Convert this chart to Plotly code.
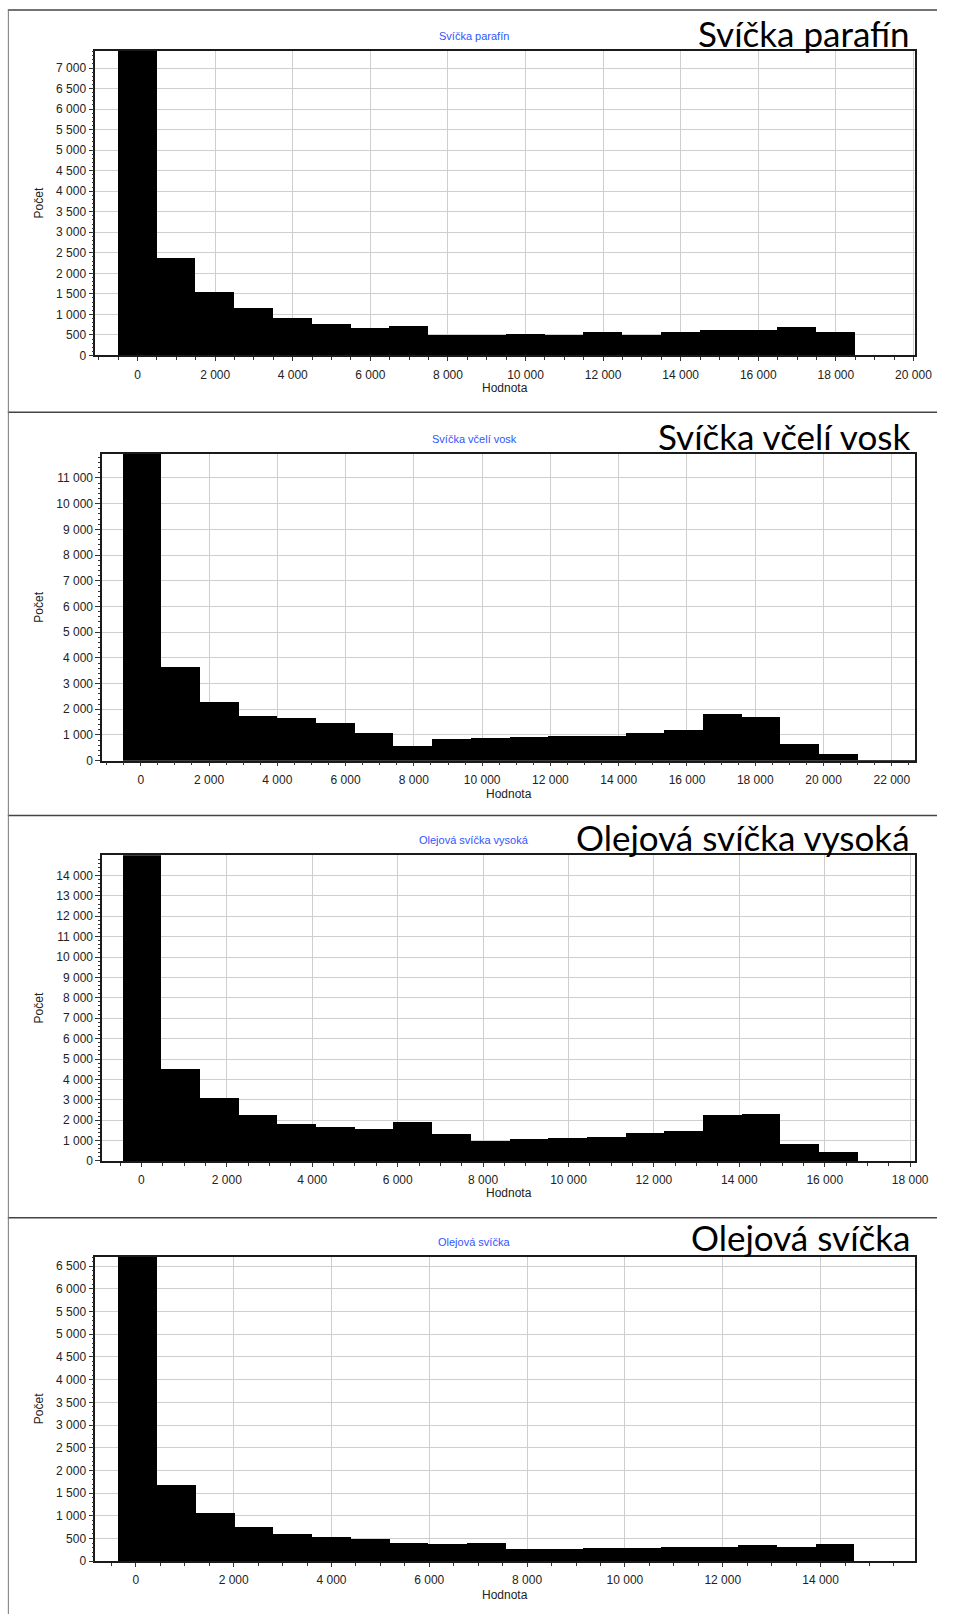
import plotly.graph_objects as go

W, H = 954, 1621

# názvy panelů
panel_titles = ["Svíčka parafín", "Svíčka včelí vosk", "Olejová svíčka vysoká", "Olejová svíčka"]

# levý okraj první třídy a šířka třídy histogramu (Hodnota)
bin_start = [-500, -524, -437, -350]
bin_width = [1000, 1133, 906, 792]

# četnosti (Počet) - první třída vždy přesahuje horní okraj grafu
counts_parafin = [9500, 2390, 1540, 1150, 915, 770, 680, 735, 505, 505,
                  540, 505, 565, 505, 565, 620, 620, 705, 565]
counts_vcelivosk = [14500, 3640, 2270, 1755, 1665, 1485, 1095, 580, 825, 900,
                    905, 965, 970, 1060, 1200, 1805, 1705, 635, 260, 25, 25]
counts_olej_vysoka = [19000, 4480, 3050, 2230, 1775, 1645, 1530, 1875, 1290, 980,
                      1040, 1110, 1175, 1335, 1465, 2235, 2280, 800, 440]
counts_olej = [9000, 1680, 1075, 760, 620, 550, 490, 410, 385, 410,
               270, 270, 300, 300, 330, 330, 360, 330, 385]
all_counts = [counts_parafin, counts_vcelivosk, counts_olej_vysoka, counts_olej]

# rozsahy os
x_ranges = [[-1090, 20050], [-1131, 22690], [-920, 18123], [-829, 15939]]
y_ranges = [[0, 7420], [0, 11930], [0, 14990], [0, 6710]]
y_dticks = [500, 1000, 1000, 500]

# umístění v pixelech: plocha grafu (x0, x1, y0, y1)
plot_px = [(97, 932, 51, 357), (104, 932, 456, 764), (104, 932, 859, 1166), (97, 932, 1262, 1568)]
blue_y = [36, 441, 844, 1247]
big_y = [33, 438, 841, 1242]
xlab_y = [390, 797, 1198, 1602]
sep_y = [10, 414, 819, 1223]


def px(x):
    return x / W


def py(y):
    return 1 - y / H


fig = go.Figure()
annotations = []
shapes = []

for i in range(4):
    n = str(i + 1) if i else ""
    x0, x1, y0, y1 = plot_px[i]
    w = bin_width[i]
    centers = [bin_start[i] + w * (k + 0.5) for k in range(len(all_counts[i]))]

    fig.add_trace(go.Bar(
        x=centers, y=all_counts[i], width=w,
        marker=dict(color="black", line=dict(width=0)),
        xaxis="x" + n, yaxis="y" + n, showlegend=False,
    ))

    axis_common = dict(
        showline=True, mirror=True, linecolor="#1a1a1a", linewidth=1.5,
        showgrid=True, gridcolor="#cfcfcf", gridwidth=1,
        ticks="outside", tickcolor="#333", zeroline=False,
        tickfont=dict(family="Liberation Sans, Arial", size=12, color="#222"),
        tickformat=",d", separatethousands=True, fixedrange=True,
    )
    fig.update_layout(**{
        "xaxis" + n: dict(
            axis_common, domain=[px(x0), px(x1)], range=x_ranges[i],
            anchor="y" + n, dtick=2000, tick0=0, ticklen=4,
            ticklabelstandoff=3,
            minor=dict(dtick=500, tick0=0, ticklen=3, ticks="outside", tickcolor="#333"),
        ),
        "yaxis" + n: dict(
            axis_common, domain=[py(y1), py(y0)], range=y_ranges[i],
            anchor="x" + n, dtick=y_dticks[i], tick0=0, ticklen=5,
            minor=dict(dtick=y_dticks[i] / 5, ticklen=2, ticks="outside", tickcolor="#333"),
        ),
    })

    # modrý nadpis grafu
    annotations.append(dict(
        text=panel_titles[i], x=px(483), y=py(blue_y[i]), xref="paper", yref="paper",
        showarrow=False, xanchor="center", yanchor="middle",
        font=dict(family="Liberation Sans, Arial", size=11, color="#2f55ff"),
    ))
    # velký popisek vpravo nahoře
    annotations.append(dict(
        text=panel_titles[i], x=px(929), y=py(big_y[i]), xref="paper", yref="paper",
        showarrow=False, xanchor="right", yanchor="middle",
        font=dict(family="Lato, Open Sans", size=35, color="black"),
    ))
    # popisky os
    annotations.append(dict(
        text="Počet", x=px(40), y=py((y0 + y1) / 2), xref="paper", yref="paper",
        showarrow=False, textangle=-90, xanchor="center", yanchor="middle",
        font=dict(family="Liberation Sans, Arial", size=12, color="#222"),
    ))
    annotations.append(dict(
        text="Hodnota", x=px((x0 + x1) / 2), y=py(xlab_y[i]), xref="paper", yref="paper",
        showarrow=False, xanchor="center", yanchor="middle",
        font=dict(family="Liberation Sans, Arial", size=12, color="#222"),
    ))
    # oddělovací čára panelu
    shapes.append(dict(type="line", xref="paper", yref="paper",
                       x0=px(8), x1=1, y0=py(sep_y[i]), y1=py(sep_y[i]),
                       line=dict(color="#444", width=1.5)))

shapes.append(dict(type="line", xref="paper", yref="paper",
                   x0=px(8.5), x1=px(8.5), y0=py(sep_y[0]), y1=0,
                   line=dict(color="#777", width=1)))

fig.update_layout(
    width=W, height=H,
    margin=dict(l=0, r=0, t=0, b=0),
    paper_bgcolor="white", plot_bgcolor="white",
    separators=", ",
    annotations=annotations, shapes=shapes,
    bargap=0,
)

# bez okraje a posuvníků; graf se roztáhne přesně na velikost okna
fig.write_html(
    "out.html",
    config={"displayModeBar": False, "responsive": False},
    post_script="document.documentElement.style.overflow = 'hidden';"
                " document.body.style.margin = '0'; document.body.style.overflow = 'hidden';"
                " var gd = document.getElementById('{plot_id}');"
                " Plotly.relayout(gd, {width: window.innerWidth, height: window.innerHeight});",
)
